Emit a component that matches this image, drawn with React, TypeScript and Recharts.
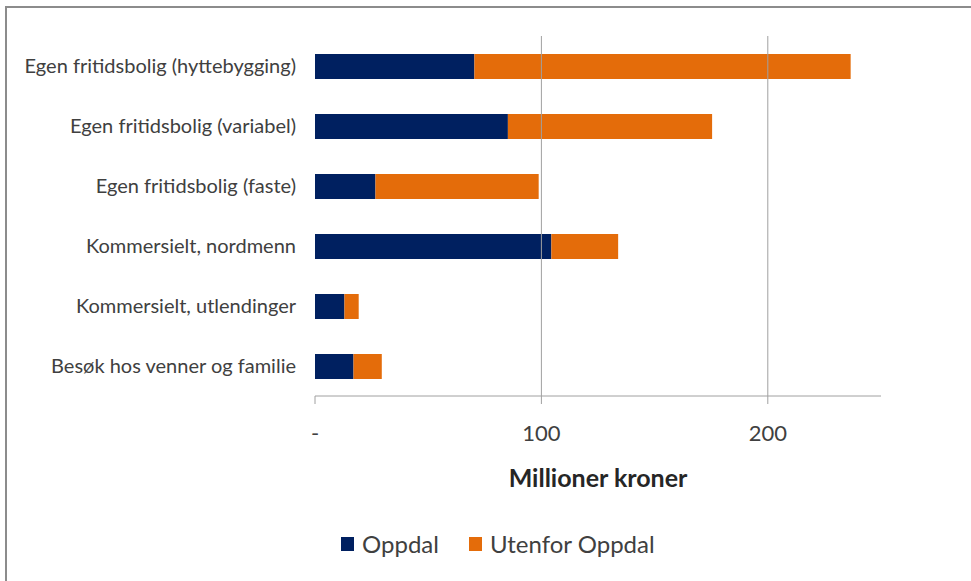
import React from 'react';
import { BarChart, Bar, XAxis, YAxis, Legend, Label, ReferenceLine } from 'recharts';

const categories = [
  'Egen fritidsbolig (hyttebygging)',
  'Egen fritidsbolig (variabel)',
  'Egen fritidsbolig (faste)',
  'Kommersielt, nordmenn',
  'Kommersielt, utlendinger',
  'Besøk hos venner og familie',
];
const oppdal = [70.4, 85.2, 26.7, 104.4, 13.0, 17.0];
const utenfor = [166.2, 90.2, 72.1, 29.5, 6.3, 12.5];
const xTicks = [0, 100, 200];
const gridValues = [100, 200];
const bandTicks = [0, 1, 2, 3, 4, 5, 6];
const seriesNames = ['Oppdal', 'Utenfor Oppdal'];
const seriesColors = ['#002060', '#E46C0A'];
const axisTitle = 'Millioner kroner';

const data = categories.map((c, i) => ({ category: c, oppdal: oppdal[i], utenfor: utenfor[i] }));

const FONT = 'Lato, "Open Sans", sans-serif';
const GRAY = '#a0a0a0';

const renderLegend = () => (
  <div style={{ height: 70, width: 971, position: 'relative', fontFamily: FONT }}>
    <div style={{ position: 'absolute', top: 19, left: 341, display: 'flex', alignItems: 'center' }}>
      {seriesNames.map((n, i) => (
        <div key={n} style={{ display: 'flex', alignItems: 'center', marginRight: 30 }}>
          <div style={{ width: 13, height: 14, background: seriesColors[i], marginRight: 8 }} />
          <span style={{ fontSize: 24, color: '#404040', lineHeight: '28px' }}>{n}</span>
        </div>
      ))}
    </div>
  </div>
);

export default function App() {
  return (
    <div style={{ position: 'absolute', left: 0, top: 0, width: 971, height: 581, background: '#fff', fontFamily: FONT }}>
      <div style={{ position: 'absolute', left: 5, top: 6, right: 0, bottom: 0, borderLeft: '2px solid #8c8c8c', borderTop: '2px solid #8c8c8c' }} />
      <BarChart
        width={971}
        height={581}
        data={data}
        layout="vertical"
        margin={{ top: 36, right: 90, left: 0, bottom: 0 }}
        barSize={25}
      >
        {gridValues.map((v) => (
          <ReferenceLine key={v} x={v} yAxisId="cat" stroke={GRAY} />
        ))}
        <XAxis
          type="number"
          domain={[0, 250]}
          ticks={xTicks}
          tickFormatter={(v: number) => (v === 0 ? '-' : String(v))}
          height={115}
          tickSize={8}
          tickMargin={21}
          stroke={GRAY}
          tick={{ fill: '#404040', fontSize: 22, fontFamily: FONT }}
        >
          <Label value={axisTitle} position="insideBottom" offset={24} style={{ fontSize: 25, fontWeight: 700, fill: '#262626', fontFamily: FONT }} />
        </XAxis>
        <YAxis
          type="number"
          domain={[0, 6]}
          ticks={bandTicks}
          allowDataOverflow
          width={0}
          tick={false}
          tickSize={7}
          stroke={GRAY}
        />
        <YAxis
          yAxisId="cat"
          type="category"
          dataKey="category"
          width={315}
          axisLine={false}
          tickLine={false}
          tickSize={0}
          tickMargin={19}
          tick={{ fill: '#404040', fontSize: 20, fontFamily: FONT }}
        />
        <Legend verticalAlign="bottom" content={renderLegend} wrapperStyle={{ left: 0, width: 971 }} />
        <Bar yAxisId="cat" dataKey="oppdal" name={seriesNames[0]} stackId="a" fill={seriesColors[0]} isAnimationActive={false} />
        <Bar yAxisId="cat" dataKey="utenfor" name={seriesNames[1]} stackId="a" fill={seriesColors[1]} isAnimationActive={false} />
      </BarChart>
    </div>
  );
}
